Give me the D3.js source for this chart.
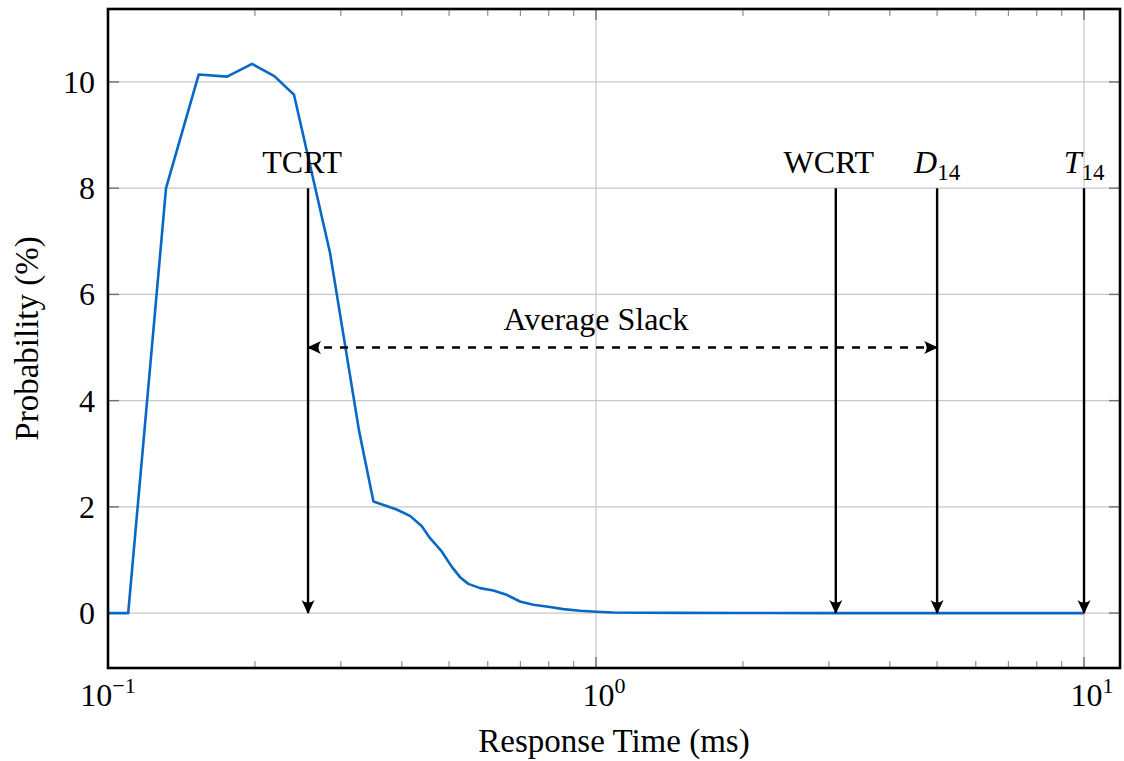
<!DOCTYPE html>
<html>
<head>
<meta charset="utf-8">
<script src="https://cdn.jsdelivr.net/npm/d3@7"></script>
<style>
  body { margin: 0; background: #fff; }
  text { font-family: "Liberation Serif", "DejaVu Serif", serif; fill: #000; }
</style>
</head>
<body>
<div id="chart"></div>
<script>
// response time distribution (ms, %)
const respTime = [0.1, 0.11, 0.1315, 0.1534, 0.1754, 0.1973, 0.2192, 0.2405, 0.285, 0.3268, 0.3499,
  0.3904, 0.4157, 0.4393, 0.457, 0.4829, 0.5061, 0.5265, 0.5475, 0.5787, 0.6159, 0.6561, 0.6986,
  0.7439, 0.805, 0.857, 0.9274, 1.0033, 1.085, 1.25, 1.5, 2, 3, 5, 10];
const probability = [0, 0, 8.0, 10.14, 10.1, 10.34, 10.11, 9.76, 6.79, 3.44, 2.1,
  1.95, 1.83, 1.64, 1.41, 1.16, 0.875, 0.676, 0.55, 0.47, 0.425, 0.344, 0.218,
  0.156, 0.113, 0.075, 0.043, 0.024, 0.011, 0.006, 0.003, 0.001, 0, 0, 0];

const yTicks = [0, 2, 4, 6, 8, 10];
const xMajor = [0.1, 1, 10];
const xMajorExp = ['\u22121', '0', '1'];
const xMinor = [0.2, 0.3, 0.4, 0.5, 0.6, 0.7, 0.8, 0.9, 2, 3, 4, 5, 6, 7, 8, 9];

// vertical markers: arrow position, label position, label text
const markName = ['TCRT', 'WCRT', 'D', 'T'];
const markSub = ['', '', '14', '14'];
const markItalic = [false, false, true, true];
const markX = [0.257, 3.1, 5, 10];
const markLabelX = [0.25, 3, 5, 10];
const markTop = 8;

const slackFrom = 0.257, slackTo = 5, slackY = 5, slackLabelX = 1;
const slackLabel = 'Average Slack';

const W = 1124, H = 761;
const m = { top: 9, right: 4, bottom: 93, left: 108 };
const iw = W - m.left - m.right, ih = H - m.top - m.bottom;

const x = d3.scaleLog().domain([0.1, 11.85]).range([0, iw]);
const y = d3.scaleLinear().domain([-1.034, 11.374]).range([ih, 0]);

const svg = d3.select('#chart').append('svg')
  .attr('width', W).attr('height', H).attr('viewBox', `0 0 ${W} ${H}`);

const defs = svg.append('defs');
defs.append('clipPath').attr('id', 'clip')
  .append('rect').attr('width', iw).attr('height', ih);
defs.append('marker')
  .attr('id', 'head')
  .attr('markerUnits', 'userSpaceOnUse')
  .attr('viewBox', '-15 -8 17 16')
  .attr('refX', 0).attr('refY', 0)
  .attr('markerWidth', 17).attr('markerHeight', 16)
  .attr('orient', 'auto-start-reverse')
  .append('path')
  .attr('d', 'M1,0 L-13,-6.5 Q-8,0 -13,6.5 Z')
  .attr('fill', '#000').attr('stroke', 'none');

const g = svg.append('g').attr('transform', `translate(${m.left},${m.top})`);

// grid
g.append('g').selectAll('line').data(yTicks).join('line')
  .attr('x1', 0).attr('x2', iw)
  .attr('y1', d => y(d)).attr('y2', d => y(d))
  .attr('stroke', '#c8c8c8').attr('stroke-width', 1.2);
g.append('g').selectAll('line').data(xMajor).join('line')
  .attr('x1', d => x(d)).attr('x2', d => x(d))
  .attr('y1', 0).attr('y2', ih)
  .attr('stroke', '#c8c8c8').attr('stroke-width', 1.2);

// ticks (inside, on all sides)
const tickCol = '#909090';
const xt = g.append('g');
xt.selectAll('.mb').data(xMinor).join('line')
  .attr('x1', d => x(d)).attr('x2', d => x(d)).attr('y1', ih).attr('y2', ih - 7)
  .attr('stroke', tickCol).attr('stroke-width', 1.2);
xt.selectAll('.mt').data(xMinor).join('line')
  .attr('x1', d => x(d)).attr('x2', d => x(d)).attr('y1', 0).attr('y2', 7)
  .attr('stroke', tickCol).attr('stroke-width', 1.2);
xt.selectAll('.Mb').data(xMajor).join('line')
  .attr('x1', d => x(d)).attr('x2', d => x(d)).attr('y1', ih).attr('y2', ih - 11)
  .attr('stroke', '#707070').attr('stroke-width', 1.4);
xt.selectAll('.Mt').data(xMajor).join('line')
  .attr('x1', d => x(d)).attr('x2', d => x(d)).attr('y1', 0).attr('y2', 11)
  .attr('stroke', '#707070').attr('stroke-width', 1.4);
const yt = g.append('g');
yt.selectAll('.l').data(yTicks).join('line')
  .attr('x1', 0).attr('x2', 11).attr('y1', d => y(d)).attr('y2', d => y(d))
  .attr('stroke', '#707070').attr('stroke-width', 1.4);
yt.selectAll('.r').data(yTicks).join('line')
  .attr('x1', iw - 11).attr('x2', iw).attr('y1', d => y(d)).attr('y2', d => y(d))
  .attr('stroke', '#707070').attr('stroke-width', 1.4);

// tick labels
g.append('g').selectAll('text').data(yTicks).join('text')
  .attr('x', -13).attr('y', d => y(d) + 11)
  .attr('text-anchor', 'end').attr('font-size', 32)
  .text(d => d);
const xl = g.append('g').selectAll('text').data(xMajor).join('text')
  .attr('x', (d, i) => x(d) + (i === 0 ? 0 : 8)).attr('y', ih + 38)
  .attr('text-anchor', 'middle').attr('font-size', 32);
xl.append('tspan').text('10');
xl.append('tspan').attr('dy', -13).attr('font-size', 22).text((d, i) => xMajorExp[i]);

// data line
g.append('path')
  .datum(respTime.map((t, i) => [t, probability[i]]))
  .attr('clip-path', 'url(#clip)')
  .attr('fill', 'none')
  .attr('stroke', '#0868c4')
  .attr('stroke-width', 2.6)
  .attr('stroke-linejoin', 'round')
  .attr('d', d3.line().x(d => x(d[0])).y(d => y(d[1])));

// marker arrows
const mk = g.append('g');
mk.selectAll('line').data(markX).join('line')
  .attr('x1', d => x(d)).attr('x2', d => x(d))
  .attr('y1', y(markTop)).attr('y2', y(0))
  .attr('stroke', '#000').attr('stroke-width', 2.4)
  .attr('marker-end', 'url(#head)');
const ml = mk.selectAll('text').data(markLabelX).join('text')
  .attr('x', d => x(d)).attr('y', y(markTop) - 15)
  .attr('text-anchor', 'middle').attr('font-size', 32);
ml.append('tspan')
  .attr('font-style', (d, i) => markItalic[i] ? 'italic' : 'normal')
  .text((d, i) => markName[i]);
ml.append('tspan').attr('dy', 7).attr('font-size', 23)
  .text((d, i) => markSub[i]);

// average slack
g.append('line')
  .attr('x1', x(slackFrom)).attr('x2', x(slackTo))
  .attr('y1', y(slackY)).attr('y2', y(slackY))
  .attr('stroke', '#000').attr('stroke-width', 2.4)
  .attr('stroke-dasharray', '8,8')
  .attr('marker-start', 'url(#head)').attr('marker-end', 'url(#head)');
g.append('text')
  .attr('x', x(slackLabelX)).attr('y', y(slackY) - 18)
  .attr('text-anchor', 'middle').attr('font-size', 32)
  .text(slackLabel);

// frame
g.append('rect').attr('width', iw).attr('height', ih)
  .attr('fill', 'none').attr('stroke', '#000').attr('stroke-width', 2.6);

// axis titles
svg.append('text')
  .attr('x', m.left + iw / 2).attr('y', 752)
  .attr('text-anchor', 'middle').attr('font-size', 33)
  .text('Response Time (ms)');
svg.append('text')
  .attr('transform', `translate(38,${m.top + ih / 2}) rotate(-90)`)
  .attr('text-anchor', 'middle').attr('font-size', 33)
  .text('Probability (%)');
</script>
</body>
</html>
